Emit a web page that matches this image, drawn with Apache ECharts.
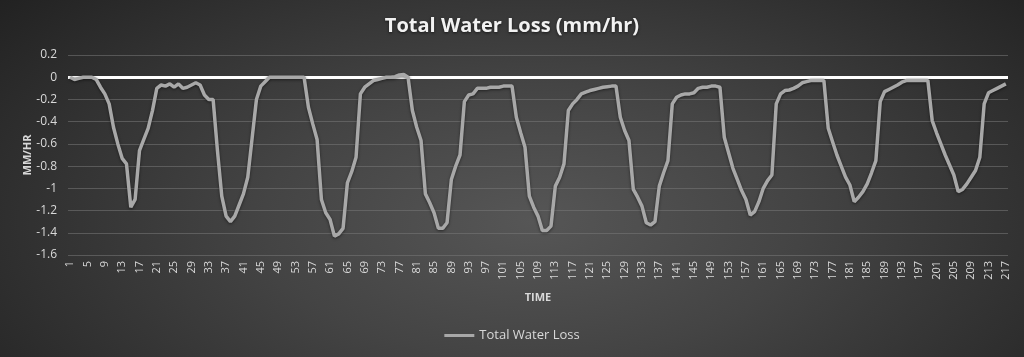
<!DOCTYPE html>
<html>
<head>
<meta charset="utf-8">
<script src="https://cdn.jsdelivr.net/npm/echarts@6/dist/echarts.min.js"></script>
<style>
html,body{margin:0;padding:0;}
#chart{width:1024px;height:357px;background:radial-gradient(ellipse 75% 110% at 52% 62%, #565656 0%, #444444 35%, #2e2e2e 70%, #1b1b1b 100%);}
</style>
</head>
<body>
<div id="chart"></div>
<script>
const chartTitle = "Total Water Loss (mm/hr)";
const seriesName = "Total Water Loss";
const yAxisName = "MM/HR";
const xAxisName = "TIME";
const categories = Array.from({length: 217}, (_, k) => String(k + 1));
const yTicks = {min: -1.6, max: 0.2, step: 0.2};
const waterLoss = [
  0, -0.02, -0.01, 0, 0, 0, -0.02, -0.09, -0.15, -0.24,
  -0.45, -0.6, -0.73, -0.78, -1.17, -1.1, -0.66, -0.56, -0.46, -0.3,
  -0.1, -0.07, -0.08, -0.06, -0.09, -0.06, -0.1, -0.09, -0.07, -0.05,
  -0.07, -0.16, -0.2, -0.2, -0.66, -1.07, -1.25, -1.3, -1.25, -1.15,
  -1.05, -0.9, -0.55, -0.2, -0.08, -0.04, 0, 0, 0, 0,
  0, 0, 0, 0, 0, -0.27, -0.42, -0.56, -1.1, -1.22,
  -1.28, -1.43, -1.41, -1.36, -0.95, -0.85, -0.72, -0.15, -0.09, -0.06,
  -0.03, -0.02, -0.01, 0, 0, 0.005, 0.02, 0.025, 0, -0.3,
  -0.45, -0.57, -1.05, -1.13, -1.22, -1.36, -1.36, -1.31, -0.92, -0.8,
  -0.7, -0.22, -0.16, -0.15, -0.1, -0.1, -0.1, -0.09, -0.09, -0.09,
  -0.08, -0.08, -0.08, -0.36, -0.5, -0.63, -1.07, -1.17, -1.25, -1.38,
  -1.38, -1.34, -0.98, -0.9, -0.78, -0.3, -0.24, -0.2, -0.15, -0.135,
  -0.12, -0.11, -0.1, -0.09, -0.085, -0.08, -0.08, -0.36, -0.48, -0.57,
  -1.01, -1.08, -1.16, -1.31, -1.33, -1.3, -0.98, -0.86, -0.75, -0.24,
  -0.18, -0.16, -0.15, -0.15, -0.14, -0.1, -0.09, -0.09, -0.08, -0.08,
  -0.09, -0.54, -0.68, -0.82, -0.92, -1.02, -1.1, -1.24, -1.21, -1.12,
  -1.0, -0.93, -0.88, -0.24, -0.15, -0.12, -0.115, -0.1, -0.08, -0.05,
  -0.04, -0.03, -0.03, -0.03, -0.03, -0.46, -0.58, -0.7, -0.8, -0.9,
  -0.97, -1.12, -1.08, -1.03, -0.96, -0.86, -0.75, -0.22, -0.13, -0.11,
  -0.09, -0.07, -0.045, -0.03, -0.03, -0.03, -0.03, -0.03, -0.03, -0.39,
  -0.5, -0.6, -0.7, -0.79, -0.88, -1.03, -1.01, -0.96, -0.9, -0.84,
  -0.72, -0.24, -0.14, -0.12, -0.1, -0.08, -0.06
];

const chart = echarts.init(document.getElementById('chart'), null, {renderer: 'canvas'});
const font = '"Open Sans", "DejaVu Sans", sans-serif';
chart.setOption({
  backgroundColor: 'transparent',
  animation: false,
  title: {
    text: chartTitle,
    left: 'center',
    top: 11,
    textStyle: {color: '#f2f2f2', fontSize: 20, fontWeight: 'bold', fontFamily: font,
      textShadowColor: 'rgba(0,0,0,0.6)', textShadowBlur: 3, textShadowOffsetY: 1}
  },
  legend: {
    bottom: 10,
    left: 'center',
    icon: 'rect',
    itemWidth: 30,
    itemHeight: 3,
    textStyle: {color: '#d9d9d9', fontSize: 13, fontFamily: font},
    data: [{name: seriesName}]
  },
  grid: {left: 68, right: 16, top: 55, bottom: 102, containLabel: false},
  xAxis: {
    type: 'category',
    data: categories,
    boundaryGap: true,
    name: xAxisName,
    nameLocation: 'middle',
    nameGap: 37,
    nameMoveOverlap: false,
    nameTextStyle: {color: '#d9d9d9', fontSize: 11, fontWeight: 'bold', fontFamily: font},
    axisLine: {show: false},
    axisTick: {show: false},
    axisLabel: {interval: 3, rotate: 90, color: '#d9d9d9', fontSize: 11, fontFamily: font, margin: 6},
    splitLine: {show: false}
  },
  yAxis: {
    type: 'value',
    min: yTicks.min,
    max: yTicks.max,
    interval: yTicks.step,
    name: yAxisName,
    nameLocation: 'middle',
    nameGap: 35,
    nameMoveOverlap: false,
    nameTextStyle: {color: '#d9d9d9', fontSize: 11, fontWeight: 'bold', fontFamily: font},
    axisLine: {show: false},
    axisTick: {show: false},
    axisLabel: {color: '#d9d9d9', fontSize: 12, fontFamily: font, margin: 11},
    splitLine: {lineStyle: {color: 'rgba(120,120,120,0.55)', width: 1}}
  },
  series: [{
    name: seriesName,
    type: 'line',
    data: waterLoss,
    symbol: 'none',
    smooth: false,
    lineStyle: {color: '#a8a8a8', width: 3.5, shadowColor: 'rgba(0,0,0,0.5)', shadowBlur: 3, shadowOffsetY: 1},
    itemStyle: {color: '#a8a8a8'},
    z: 3,
    markLine: {
      silent: true,
      symbol: 'none',
      label: {show: false},
      lineStyle: {color: '#ffffff', width: 3, type: 'solid'},
      data: [{yAxis: 0}],
      z: 2
    }
  }]
});
</script>
</body>
</html>
